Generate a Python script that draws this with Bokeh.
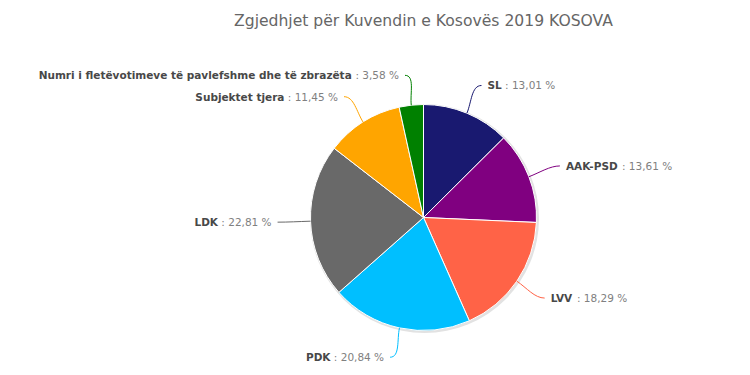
import glob, struct, math
from bokeh.plotting import figure
from bokeh.models import Range1d, ColumnDataSource
from bokeh.core.properties import value
from bokeh.embed import file_html
from bokeh.resources import INLINE

# ---------------- data ----------------
title_text = "Zgjedhjet për Kuvendin e Kosovës 2019 KOSOVA"
names = ["SL", "AAK-PSD", "LVV", "PDK", "LDK", "Subjektet tjera",
         "Numri i fletëvotimeve të pavlefshme dhe të zbrazëta"]
values = [13.01, 13.61, 18.29, 20.84, 22.81, 11.45, 3.58]
colors = ["#191970", "#800080", "#FF6347", "#00BFFF", "#696969", "#FFA500", "#008000"]

# ---------------- font metrics ----------------
def load_width_fn(pattern):
    files = []
    for root in ("/usr/share/fonts", "/usr/local/share/fonts"):
        files += glob.glob(root + "/**/" + pattern, recursive=True)
    if not files:
        return None
    try:
        data = open(files[0], "rb").read()
        nt = struct.unpack(">H", data[4:6])[0]
        tables = {}
        for i in range(nt):
            tag, cs, off, ln = struct.unpack(">4sIII", data[12 + 16 * i:28 + 16 * i])
            tables[tag.decode("latin1")] = off
        head = tables["head"]
        upem = struct.unpack(">H", data[head + 18:head + 20])[0]
        hhea = tables["hhea"]
        nhm = struct.unpack(">H", data[hhea + 34:hhea + 36])[0]
        hmtx = tables["hmtx"]
        adv = [struct.unpack(">H", data[hmtx + 4 * i:hmtx + 4 * i + 2])[0] for i in range(nhm)]
        cm = tables["cmap"]
        n = struct.unpack(">H", data[cm + 2:cm + 4])[0]
        sub = None
        for i in range(n):
            pid, eid, off = struct.unpack(">HHI", data[cm + 4 + 8 * i:cm + 12 + 8 * i])
            fmt = struct.unpack(">H", data[cm + off:cm + off + 2])[0]
            if fmt == 4:
                sub = cm + off
                break
        segx2 = struct.unpack(">H", data[sub + 6:sub + 8])[0]
        seg = segx2 // 2
        ends = struct.unpack(">%dH" % seg, data[sub + 14:sub + 14 + segx2])
        starts = struct.unpack(">%dH" % seg, data[sub + 16 + segx2:sub + 16 + 2 * segx2])
        deltas = struct.unpack(">%dh" % seg, data[sub + 16 + 2 * segx2:sub + 16 + 3 * segx2])
        rpos = sub + 16 + 3 * segx2
        roffs = struct.unpack(">%dH" % seg, data[rpos:rpos + segx2])

        def gid(c):
            for k in range(seg):
                if ends[k] >= c:
                    if starts[k] > c:
                        return 0
                    if roffs[k] == 0:
                        return (c + deltas[k]) & 0xFFFF
                    addr = rpos + 2 * k + roffs[k] + 2 * (c - starts[k])
                    g = struct.unpack(">H", data[addr:addr + 2])[0]
                    return (g + deltas[k]) & 0xFFFF if g else 0
            return 0

        def width(s, size):
            return sum(adv[min(gid(ord(ch)), nhm - 1)] for ch in s) * size / upem
        return width
    except Exception:
        return None

w_bold = load_width_fn("DejaVuSans-Bold.ttf") or (lambda s, size: len(s) * size * 0.68)
w_reg = load_width_fn("DejaVuSans.ttf") or (lambda s, size: len(s) * size * 0.6)

# ---------------- layout ----------------
W, H = 750, 375
cx, cy = 423, H - 217
r = 113
dist = 30
fs = 10.5
fs_px = "%.1fpx" % fs

p = figure(width=W, height=H, output_backend="svg", toolbar_location=None,
           x_range=Range1d(0, W), y_range=Range1d(0, H), min_border=0)
p.axis.visible = False
p.grid.visible = False
p.outline_line_color = None
p.background_fill_color = "white"
p.border_fill_color = "white"

total = sum(values)
starts_f, ends_f, mids = [], [], []
acc = 0.0
for v in values:
    a0 = acc / total * 2 * math.pi
    acc += v
    a1 = acc / total * 2 * math.pi
    starts_f.append(a0); ends_f.append(a1); mids.append((a0 + a1) / 2)

# shadow rim
p.circle(x=[cx + 1], y=[cy - 1], radius=r + 1.5, fill_color="#e2e2e2", line_color=None)

src = ColumnDataSource(dict(
    x=[cx] * len(values), y=[cy] * len(values),
    start=[math.pi / 2 - e for e in ends_f],
    end=[math.pi / 2 - s for s in starts_f],
    color=colors))
p.wedge(x="x", y="y", radius=r, start_angle="start", end_angle="end",
        direction="anticlock", fill_color="color", line_color="white", line_width=1, source=src)

# labels + connectors
for name, v, col, th in zip(names, values, colors, mids):
    s, c = math.sin(th), math.cos(th)
    side = 1 if s >= 0 else -1
    ax = cx + (r + dist) * s
    ay = cy + (r + dist) * c
    ex, ey = cx + r * s, cy + r * c
    lx = ax + side * 3
    p.bezier(x0=[ex], y0=[ey], x1=[lx], y1=[ay],
             cx0=[ex + 12 * s], cy0=[ey + 12 * c],
             cx1=[lx - side * 10], cy1=[ay],
             line_color=col, line_width=1)
    val_txt = ": " + ("%.2f" % v).replace(".", ",") + " %"
    tx = ax + side * 9
    sp = w_reg(" ", fs)
    if side > 0:
        name_x = tx
        val_x = tx + w_bold(name, fs) + sp
    else:
        val_x = tx - w_reg(val_txt, fs)
        name_x = val_x - sp - w_bold(name, fs)
    p.text(x=[name_x], y=[ay], text=[name], text_font=value("DejaVu Sans"),
           text_font_size=fs_px, text_font_style="bold", text_color="#484848",
           text_align="left", text_baseline="middle")
    p.text(x=[val_x], y=[ay], text=[val_txt], text_font=value("DejaVu Sans"),
           text_font_size=fs_px, text_color="#808080",
           text_align="left", text_baseline="middle")

# title
p.text(x=[cx], y=[H - 20], text=[title_text], text_font=value("DejaVu Sans"),
       text_font_size="15.6px", text_color="#666666", text_align="center",
       text_baseline="middle")

open("out.html", "w").write(file_html(p, INLINE))
